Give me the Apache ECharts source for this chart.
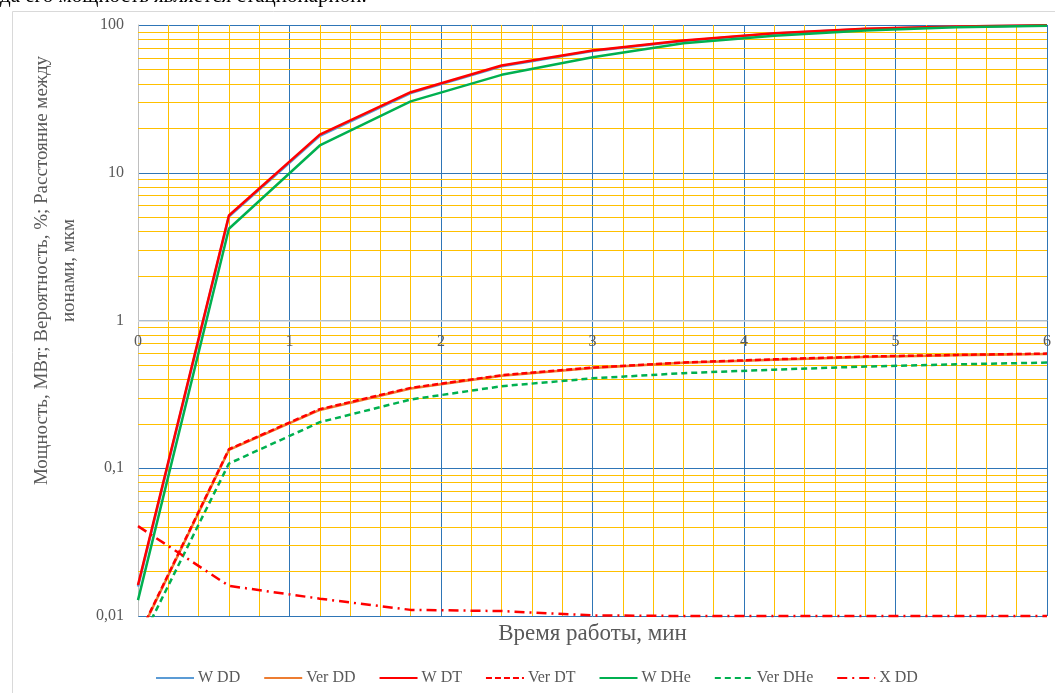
<!DOCTYPE html>
<html>
<head>
<meta charset="utf-8">
<script src="https://cdn.jsdelivr.net/npm/echarts@6/dist/echarts.min.js"></script>
<style>
html,body{margin:0;padding:0;background:#fff;}
#chart{width:1055px;height:693px;}
</style>
</head>
<body>
<div id="chart"></div>
<script>
// ---- data ----
const time = [0, 0.6, 1.2, 1.8, 2.4, 3.0, 3.6, 4.2, 4.8, 5.4, 6.0];
const wDD   = [0.0158, 5.05, 17.8, 34.6, 52.6, 66.6, 78.0, 87.5, 94.0, 97.5, 99.4];
const verDD = [0.0071, 0.133, 0.248, 0.347, 0.423, 0.477, 0.517, 0.543, 0.567, 0.582, 0.594];
const wDT   = [0.0162, 5.14, 18.1, 35.1, 53.2, 67.2, 78.5, 88.0, 94.3, 97.7, 99.5];
const verDT = [0.0072, 0.1345, 0.251, 0.350, 0.426, 0.480, 0.520, 0.546, 0.570, 0.585, 0.597];
const wDHe  = [0.0128, 4.18, 15.3, 30.4, 46.0, 60.5, 75.3, 84.6, 91.8, 96.5, 99.0];
const verDHe= [0.0062, 0.1076, 0.205, 0.292, 0.359, 0.406, 0.440, 0.465, 0.488, 0.505, 0.519];
const xDD   = [0.0406, 0.0160, 0.0131, 0.0110, 0.0108, 0.0101, 0.0100, 0.0100, 0.0100, 0.0100, 0.0100];
const seriesNames = ['W DD', 'Ver DD', 'W DT', 'Ver DT', 'W DHe', 'Ver DHe', 'X DD'];
const minorY = [0.02,0.03,0.04,0.05,0.06,0.07,0.08,0.09,
                0.2,0.3,0.4,0.5,0.6,0.7,0.8,0.9,
                2,3,4,5,6,7,8,9,
                20,30,40,50,60,70,80,90];
const xTitle = 'Время работы, мин';
const yTitle = 'Мощность, МВт; Вероятность, %; Расстояние между\nионами, мкм';
const topText = 'да его мощность является стационарной.';

const FONT = '"Liberation Serif", "Times New Roman", serif';
const GREY = '#595959';

function pairs(ys){ return time.map((t,i)=>[t, ys[i]]); }

const chart = echarts.init(document.getElementById('chart'), null, {renderer:'canvas'});

function mkSeries(name, data, color, type, extra){
  return Object.assign({
    name: name, type: 'line', data: pairs(data),
    symbol: 'none', showSymbol: false,
    lineStyle: {color: color, width: 2.5, type: type},
    itemStyle: {color: color},
    z: 3, animation: false
  }, extra || {});
}

const option = {
  animation: false,
  backgroundColor: '#fff',
  grid: {left: 138, right: 8, top: 25, bottom: 77, containLabel: false},
  xAxis: [
    {
      type: 'value', min: 0, max: 6, interval: 1,
      axisLine: {show: false}, axisTick: {show: false}, axisLabel: {show: false},
      splitLine: {show: true, lineStyle: {color: '#2E75B6', width: 1}},
      minorTick: {show: false, splitNumber: 5},
      minorSplitLine: {show: true, lineStyle: {color: '#FFC000', width: 1}},
      name: xTitle, nameLocation: 'middle', nameGap: 6,
      nameTextStyle: {fontFamily: FONT, fontSize: 23, color: GREY}
    },
    {
      type: 'value', min: 0, max: 6, interval: 1, position: 'bottom', z: 10,
      axisLine: {show: false}, axisTick: {show: false},
      splitLine: {show: false},
      axisLabel: {show: true, margin: -282, fontFamily: FONT, fontSize: 16, color: GREY}
    }
  ],
  yAxis: {
    type: 'log', logBase: 10, min: 0.01, max: 100,
    axisLine: {show: true, lineStyle: {color: '#BFBFBF', width: 1}},
    axisTick: {show: false},
    splitLine: {show: true, lineStyle: {color: '#2E75B6', width: 1}},
    axisLabel: {
      margin: 14, fontFamily: FONT, fontSize: 16, color: GREY,
      formatter: v => String(+Number(v).toPrecision(3)).replace('.', ',')
    },
    name: yTitle, nameLocation: 'middle', nameRotate: 90, nameGap: 55,
    nameTextStyle: {fontFamily: FONT, fontSize: 19, color: GREY, lineHeight: 27, align: 'center', padding: [0,0,0,100]}
  },
  legend: {
    data: seriesNames, left: 155, top: 670, padding: 0,
    itemWidth: 38, itemHeight: 14, itemGap: 23,
    itemStyle: {opacity: 0},
    textStyle: {fontFamily: FONT, fontSize: 16, color: GREY, padding: [0,0,0,-1]}
  },
  graphic: [
    {type: 'rect', left: 10, top: 9, silent: true, z: -10,
     shape: {width: 1200, height: 800}, style: {fill: 'none', stroke: '#D9D9D9', lineWidth: 1}},
    {type: 'text', left: 0, top: -14, silent: true,
     style: {text: topText, fontFamily: FONT, fontSize: 21, fill: '#000'}}
  ],
  series: [
    Object.assign(mkSeries(seriesNames[0], wDD, '#5B9BD5', 'solid'), {
      markLine: {
        silent: true, symbol: ['none','none'], z: 1, animation: false,
        label: {show: false},
        emphasis: {disabled: true},
        lineStyle: {color: '#FFC000', width: 1, type: 'solid'},
        data: minorY.map(v => ({yAxis: v})).concat([
          {yAxis: 1, lineStyle: {color: '#D9D9D9', width: 1.5, type: 'solid'}}
        ])
      }
    }),
    mkSeries(seriesNames[1], verDD, '#ED7D31', 'solid'),
    mkSeries(seriesNames[2], wDT, '#FF0000', 'solid'),
    mkSeries(seriesNames[3], verDT, '#FF0000', [6, 3]),
    mkSeries(seriesNames[4], wDHe, '#00B050', 'solid'),
    mkSeries(seriesNames[5], verDHe, '#00B050', [6, 4]),
    mkSeries(seriesNames[6], xDD, '#FF0000', [10, 5, 2, 5], {clip: false})
  ]
};
chart.setOption(option);
</script>
</body>
</html>
